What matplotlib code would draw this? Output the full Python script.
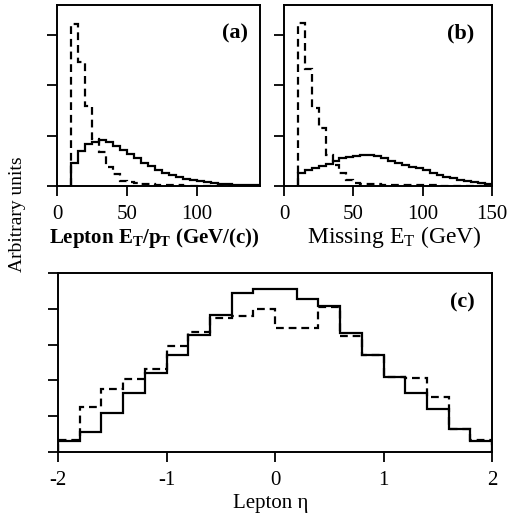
import numpy as np
import matplotlib
matplotlib.use("Agg")
import matplotlib.pyplot as plt

plt.rcParams['font.family'] = ['Liberation Serif', 'DejaVu Serif']
plt.rcParams['mathtext.fontset'] = 'custom'
plt.rcParams['mathtext.rm'] = 'Liberation Serif'
plt.rcParams['mathtext.it'] = 'Liberation Serif:italic'
plt.rcParams['mathtext.bf'] = 'Liberation Serif:bold'
plt.rcParams['axes.unicode_minus'] = False

# ---- data ----
# (a) Lepton ET/pT, 5 GeV bins from 10 to 145
a_edges = np.arange(10, 150, 5)
a_solid = [0.45, 0.70, 0.83, 0.87, 0.91, 0.87, 0.80, 0.71, 0.63, 0.55, 0.46, 0.39,
           0.32, 0.26, 0.21, 0.17, 0.14, 0.11, 0.09, 0.07, 0.05, 0.04, 0.03, 0.025,
           0.02, 0.015, 0.01]
a_dashed = [3.23, 2.47, 1.59, 0.93, 0.67, 0.37, 0.23, 0.10, 0.07, 0.05, 0.04, 0.03,
            0.02, 0.015, 0.01, 0.01, 0.008, 0.006, 0.005, 0.004, 0.003, 0.003, 0.002,
            0.002, 0.001, 0.001, 0.001]

# (b) Missing ET, 5 GeV bins from 10 to 150
b_edges = np.arange(10, 155, 5)
b_solid = [0.25, 0.31, 0.35, 0.39, 0.44, 0.50, 0.56, 0.58, 0.60, 0.62, 0.62, 0.59,
           0.55, 0.50, 0.46, 0.42, 0.38, 0.35, 0.31, 0.26, 0.21, 0.18, 0.15, 0.12,
           0.09, 0.07, 0.05, 0.04]
b_dashed = [3.25, 2.32, 1.55, 1.15, 0.62, 0.42, 0.26, 0.12, 0.05, 0.04, 0.03, 0.03,
            0.025, 0.02, 0.02, 0.015, 0.015, 0.01, 0.01, 0.01, 0.008, 0.008, 0.006,
            0.006, 0.005, 0.005, 0.004, 0.004]

# (c) Lepton eta, 0.2 bins from -2 to 2
c_edges = np.linspace(-2, 2, 21)
c_solid = [0.31, 0.56, 1.10, 1.66, 2.21, 2.70, 3.28, 3.83, 4.44, 4.54,
           4.54, 4.27, 4.07, 3.33, 2.72, 2.10, 1.66, 1.19, 0.64, 0.31]
c_dashed = [0.34, 1.27, 1.77, 2.05, 2.32, 2.95, 3.35, 3.74, 3.79, 3.99,
            3.46, 3.46, 4.04, 3.23, 2.72, 2.10, 2.06, 1.53, 0.64, 0.34]

W, H = 508, 518
fig = plt.figure(figsize=(W / 100, H / 100), dpi=100)

def box(l, r, t, b):
    return [l / W, 1 - b / H, (r - l) / W, (b - t) / H]

def fx(px):
    return px / W

def fy(py):
    return 1 - py / H

ax_a = fig.add_axes(box(57, 260, 5, 186))
ax_b = fig.add_axes(box(284, 492, 5, 186))
ax_c = fig.add_axes(box(58, 492, 273, 452))

lw = 1.6
dash = (0, (3.5, 2.2))

def style(ax):
    for s in ax.spines.values():
        s.set_linewidth(1.4)
    ax.tick_params(direction='out', length=7, width=1.3, labelsize=15, pad=6.5)
    ax.tick_params(axis='y', labelleft=False)

# panel a
ax_a.stairs(a_solid, a_edges, color='black', lw=lw, baseline=0)
ax_a.stairs(a_dashed, a_edges, color='black', lw=lw, ls=dash, baseline=0)
ax_a.set_xlim(0, 145)
ax_a.set_ylim(0, 3.6)
ax_a.set_xticks([0, 50, 100])
ax_a.set_yticks([0, 1, 2, 3])
style(ax_a)
fig.text(fx(154), fy(243), r'Lepton E$_\mathbf{T}$/p$_\mathbf{T}$ (GeV/(c))',
         fontsize=15, fontweight='bold', ha='center', va='baseline')
ax_a.text(0.877, 0.845, '(a)', transform=ax_a.transAxes, fontsize=16,
          fontweight='bold', ha='center', va='center')

# panel b
ax_b.stairs(b_solid, b_edges, color='black', lw=lw, baseline=0)
ax_b.stairs(b_dashed, b_edges, color='black', lw=lw, ls=dash, baseline=0)
ax_b.set_xlim(0, 150)
ax_b.set_ylim(0, 3.6)
ax_b.set_xticks([0, 50, 100, 150])
ax_b.set_yticks([0, 1, 2, 3])
style(ax_b)
fig.text(fx(394), fy(243), r'Missing E$_\mathrm{T}$ (GeV)', fontsize=17,
         ha='center', va='baseline')
ax_b.text(0.851, 0.845, '(b)', transform=ax_b.transAxes, fontsize=16,
          fontweight='bold', ha='center', va='center')

# panel c
ax_c.stairs(c_solid, c_edges, color='black', lw=lw, baseline=0)
ax_c.stairs(c_dashed, c_edges, color='black', lw=lw, ls=dash, baseline=0)
ax_c.set_xlim(-2, 2)
ax_c.set_ylim(0, 5)
ax_c.set_xticks([-2, -1, 0, 1, 2])
ax_c.set_yticks([0, 1, 2, 3, 4, 5])
style(ax_c)
fig.text(fx(271), fy(508), 'Lepton η', fontsize=15, ha='center', va='baseline')
ax_c.text(0.931, 0.838, '(c)', transform=ax_c.transAxes, fontsize=16,
          fontweight='bold', ha='center', va='center')

fig.text(fx(18), fy(214), 'Arbitrary units', rotation=90, fontsize=14,
         ha='center', va='center')

fig.savefig('out.png', dpi=100)
